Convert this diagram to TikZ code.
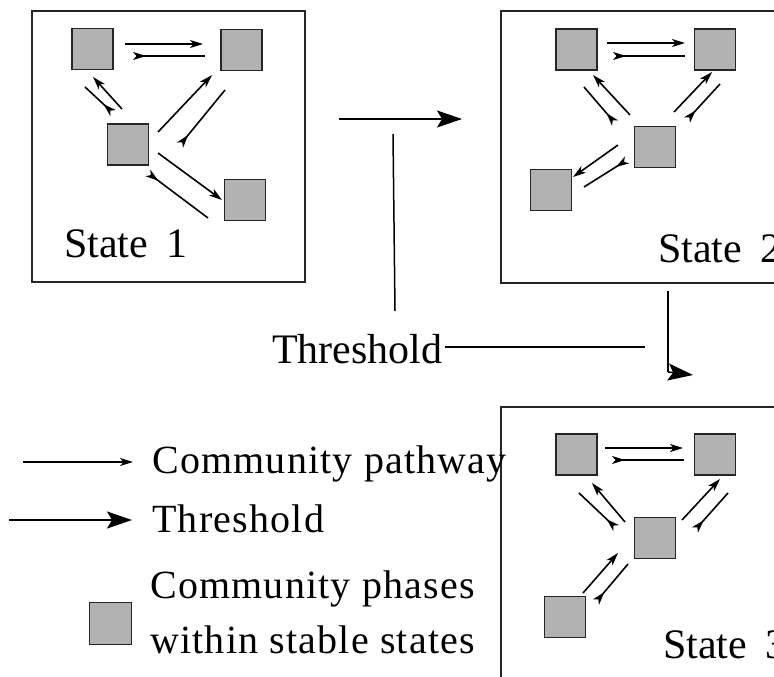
\documentclass[tikz,border=0pt]{standalone}
\usepackage{fontspec}
\setmainfont{Liberation Serif}
\newfontfamily\legendfont[LetterSpace=3]{Liberation Serif}
\usetikzlibrary{arrows.meta}

\tikzset{
  phase/.style={draw=black!85, fill=black!30, line width=1.5pt, minimum size=41pt, inner sep=0pt},
  frame/.style={draw=black!85, line width=1.5pt, inner sep=0pt},
  pathway/.style={line width=1.6pt, -{Stealth[length=13pt,width=8pt,inset=3.5pt]}},
  pathback/.style={line width=1.6pt, {Stealth[reversed,length=13pt,width=8pt,inset=3.5pt]}-},
  threshold/.style={line width=1.5pt, -{Stealth[length=25pt,width=17pt,inset=5pt]}},
  statelabel/.style={font=\fontsize{42}{48}\selectfont, inner sep=0pt, anchor=base west},
  legendlabel/.style={font=\legendfont\fontsize{40}{46}\selectfont, inner sep=0pt, anchor=base west},
}

\begin{document}
\begin{tikzpicture}[x=1pt,y=-1pt]
  \useasboundingbox (0,0) rectangle (774,677);
  \clip (0,0) rectangle (774,677);

  % frames
  \draw[frame] (32,11) rectangle (305,282);
  \draw[frame] (501,11) rectangle (800,283);
  \draw[frame] (501,407) rectangle (800,700);

  % state 1
  \node[phase] (a1) at (92.5,49) {};
  \node[phase] (b1) at (241.5,50) {};
  \node[phase] (c1) at (128,144.5) {};
  \node[phase] (d1) at (245,200) {};
  \draw[pathway]  ([shift={(32.5,-5)}]a1.center) -- ([shift={(-38.5,-6)}]b1.center);
  \draw[pathback] ([shift={(40.5,7)}]a1.center) -- ([shift={(-36.5,6)}]b1.center);
  \draw[pathway]  ([shift={(-6,-35.5)}]c1.center) -- ([shift={(0.5,28)}]a1.center);
  \draw[pathback] ([shift={(-15,-31.5)}]c1.center) -- ([shift={(-7.5,38)}]a1.center);
  \draw[pathway]  ([shift={(30,-12.5)}]c1.center) -- ([shift={(-29.5,25)}]b1.center);
  \draw[pathback] ([shift={(52,0.5)}]c1.center) -- ([shift={(-16.5,40)}]b1.center);
  \draw[pathway]  ([shift={(30,8.5)}]c1.center) -- ([shift={(-23,0)}]d1.center);
  \draw[pathback] ([shift={(20,28.5)}]c1.center) -- ([shift={(-37,18)}]d1.center);
  \node[statelabel] (s1) at (64,257) {State\hspace{8pt} 1};

  % state 2
  \node[phase] (a2) at (576.5,49.5) {};
  \node[phase] (b2) at (715,49.5) {};
  \node[phase] (c2) at (655,147) {};
  \node[phase] (e2) at (551,190) {};
  \draw[pathway]  ([shift={(30.5,-6.5)}]a2.center) -- ([shift={(-30,-6.5)}]b2.center);
  \draw[pathback] ([shift={(36.5,6.5)}]a2.center) -- ([shift={(-30,6.5)}]b2.center);
  \draw[pathway]  ([shift={(-25,-32)}]c2.center) -- ([shift={(16.5,25.5)}]a2.center);
  \draw[pathback] ([shift={(-40,-24)}]c2.center) -- ([shift={(7.5,37.5)}]a2.center);
  \draw[pathway]  ([shift={(19,-35)}]c2.center) -- ([shift={(-3,22.5)}]b2.center);
  \draw[pathback] ([shift={(32,-27)}]c2.center) -- ([shift={(5,34.5)}]b2.center);
  \draw[pathway]  ([shift={(-37,-2)}]c2.center) -- ([shift={(22,-13)}]e2.center);
  \draw[pathback] ([shift={(-28,13)}]c2.center) -- ([shift={(33,-3)}]e2.center);
  \node[statelabel] (s2) at (658,262) {State\hspace{8pt} 2};

  % state 3
  \node[phase] (a3) at (576.5,454.5) {};
  \node[phase] (b3) at (715,454.5) {};
  \node[phase] (c3) at (655,538) {};
  \node[phase] (f3) at (565,617) {};
  \draw[pathway]  ([shift={(28.5,-6.5)}]a3.center) -- ([shift={(-32,-6.5)}]b3.center);
  \draw[pathback] ([shift={(35.5,5.5)}]a3.center) -- ([shift={(-31,5.5)}]b3.center);
  \draw[pathway]  ([shift={(-30,-16)}]c3.center) -- ([shift={(15.5,28.5)}]a3.center);
  \draw[pathback] ([shift={(-39,-10)}]c3.center) -- ([shift={(2.5,38.5)}]a3.center);
  \draw[pathway]  ([shift={(27,-18)}]c3.center) -- ([shift={(5,24.5)}]b3.center);
  \draw[pathback] ([shift={(40,-8)}]c3.center) -- ([shift={(13,38.5)}]b3.center);
  \draw[pathway]  ([shift={(18,-24)}]f3.center) -- ([shift={(-37,15)}]c3.center);
  \draw[pathback] ([shift={(31,-15)}]f3.center) -- ([shift={(-27,26)}]c3.center);
  \node[statelabel] (s3) at (663,658) {State\hspace{8pt} 3};

  % thresholds
  \coordinate (h1) at (339,119);
  \coordinate (h2) at (462,119);
  \coordinate (v1) at (393,134);
  \coordinate (v2) at (395,311);
  \coordinate (t0) at (445,347);
  \coordinate (t1) at (645,347);
  \coordinate (d1top) at (668,291);
  \coordinate (d1bot) at (668,372);
  \coordinate (d1tip) at (693,375);
  \node[statelabel] (thr) at (272,363) {Threshold};
  \draw[threshold] (h1) -- (h2);
  \draw[line width=1.5pt] (v1) -- (v2);
  \draw[line width=1.5pt] (t0) -- (t1);
  \draw[line width=1.5pt] (d1top) -- (d1bot);
  \draw[threshold] (d1bot) -- (d1tip);

  % legend
  \coordinate (lp1) at (23,462);
  \coordinate (lp2) at (133,462);
  \coordinate (lt1) at (9,520);
  \coordinate (lt2) at (132,520);
  \draw[pathway, line width=1.3pt] (lp1) -- (lp2);
  \draw[threshold] (lt1) -- (lt2);
  \node[phase, minimum size=42pt] (lsq) at (110.5,623.5) {};
  \node[legendlabel] (lg1) at (152,473) {Community pathway};
  \node[legendlabel] (lg2) at (152,532) {Threshold};
  \node[legendlabel] (lg3) at (150,598) {Community phases};
  \node[legendlabel] (lg4) at (150,653) {within stable states};
\end{tikzpicture}
\end{document}
